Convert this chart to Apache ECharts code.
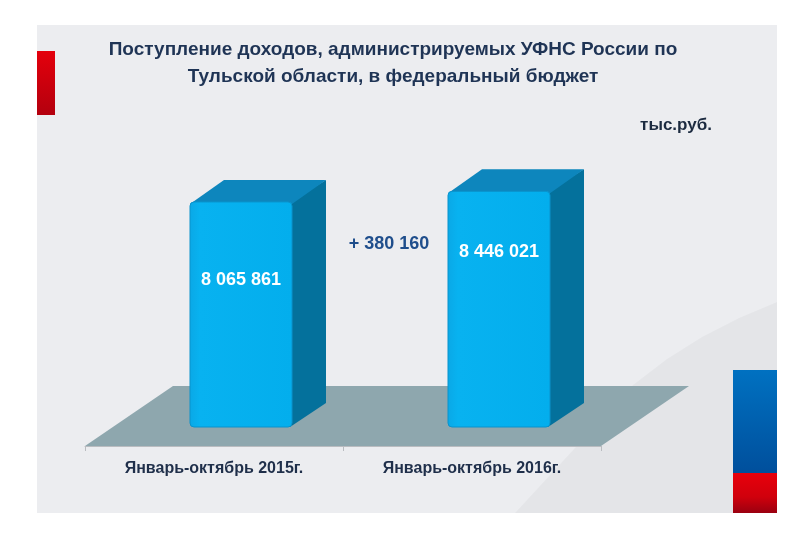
<!DOCTYPE html>
<html>
<head>
<meta charset="utf-8">
<script src="https://cdn.jsdelivr.net/npm/echarts@6/dist/echarts.min.js"></script>
<style>
html, body { margin: 0; padding: 0; background: #fff; }
#chart { width: 800px; height: 533px; }
</style>
</head>
<body>
<div id="chart"></div>
<script>
// данные
var categories = ['Январь-октябрь 2015г.', 'Январь-октябрь 2016г.'];
var values = [8065861, 8446021];
var titleLines = ['Поступление доходов, администрируемых УФНС России по', 'Тульской области, в федеральный бюджет'];
var unitText = 'тыс.руб.';

var sans = '"Liberation Sans", Arial, sans-serif';

function fmt(n) {
	var s = String(Math.abs(n));
	var out = '';
	while (s.length > 3) {
		out = ' ' + s.slice(-3) + out;
		s = s.slice(0, -3);
	}
	return s + out;
}

var diff = values[1] - values[0];

var myChart = echarts.init(document.getElementById('chart'));

function renderBar(params, api) {
	var i = params.dataIndex;
	var base = api.coord([api.value(0), 0]);
	var top = api.coord([api.value(0), api.value(1)]);
	var w = 102, dx = 34, dy = 22;
	var x0 = base[0] + 27 - w / 2, x1 = x0 + w;
	var y0 = top[1], y1 = base[1];
	var labelY = i == 0 ? y0 + 78 : y0 + 61; //подписи внутри столбцов
	return {
		type: 'group',
		children: [{
			type: 'polygon',
			shape: { points: [[x1 - 2, y0], [x1 + dx, y0 - dy], [x1 + dx, y1 - dy - 2], [x1 - 2, y1]] },
			style: { fill: '#04719c' }
		}, {
			type: 'polygon',
			shape: { points: [[x0, y0 + 2], [x0 + dx, y0 - dy], [x1 + dx, y0 - dy], [x1, y0 + 2]] },
			style: { fill: '#0d86bd' }
		}, {
			type: 'rect',
			shape: { x: x0, y: y0, width: w, height: y1 - y0, r: 4 },
			style: {
				fill: new echarts.graphic.LinearGradient(0, 0, 1, 0, [
					{ offset: 0, color: '#0aa8e6' },
					{ offset: 0.1, color: '#08b2f0' },
					{ offset: 1, color: '#03aeed' }
				]),
				stroke: '#0a93cc', lineWidth: 1
			}
		}, {
			type: 'text',
			style: {
				text: fmt(api.value(1)),
				x: x0 + w / 2, y: labelY,
				align: 'center', verticalAlign: 'middle',
				fill: '#ffffff',
				font: 'bold 18px ' + sans
			}
		}]
	};
}

var option = {
	backgroundColor: '#ffffff',
	animation: false,
	grid: {
		left: 85,
		right: 199,
		top: 148,
		bottom: 106
	},
	xAxis: {
		type: 'category',
		data: categories,
		offset: 19,
		axisLine: { onZero: false, lineStyle: { color: '#b9bcc0', width: 1 } },
		axisTick: { show: true, length: 5, lineStyle: { color: '#b9bcc0' } },
		axisLabel: {
			margin: 15,
			color: '#1f2f4a',
			fontWeight: 'bold',
			fontSize: 16,
			fontFamily: sans
		}
	},
	yAxis: {
		type: 'value',
		min: 0,
		max: 10000000,
		show: false,
		splitLine: { show: false }
	},
	graphic: [{
		type: 'rect', z: -10,
		shape: { x: 37, y: 25, width: 740, height: 488 },
		style: { fill: '#ecedf0' }
	}, {
		// затемнённый сектор фона справа внизу
		type: 'polygon', z: -9,
		shape: { points: [[515, 513], [633, 385], [667, 359], [702, 337], [739, 318], [777, 302], [777, 513]] },
		style: { fill: 'rgba(0,0,0,0.03)' }
	}, {
		type: 'rect', z: -8,
		shape: { x: 37, y: 51, width: 18, height: 64 },
		style: {
			fill: new echarts.graphic.LinearGradient(0, 0, 0, 1, [
				{ offset: 0, color: '#e4000c' },
				{ offset: 1, color: '#b3000e' }
			])
		}
	}, {
		type: 'rect', z: -8,
		shape: { x: 733, y: 370, width: 44, height: 103 },
		style: {
			fill: new echarts.graphic.LinearGradient(0, 0, 0, 1, [
				{ offset: 0, color: '#0071c1' },
				{ offset: 1, color: '#004f9c' }
			])
		}
	}, {
		type: 'rect', z: -8,
		shape: { x: 733, y: 473, width: 44, height: 40 },
		style: {
			fill: new echarts.graphic.LinearGradient(0, 0, 0, 1, [
				{ offset: 0, color: '#e8000c' },
				{ offset: 0.6, color: '#d0000c' },
				{ offset: 1, color: '#9a0010' }
			])
		}
	}, {
		// пол диаграммы
		type: 'polygon', z: -5,
		shape: { points: [[85, 446], [601, 446], [689, 386], [173, 386]] },
		style: { fill: '#8ea7ae' }
	}, {
		type: 'text', z: 10,
		style: {
			text: titleLines.join('\n'),
			x: 393, y: 36,
			align: 'center',
			lineHeight: 27,
			fill: '#1f3455',
			font: 'bold 19px ' + sans
		}
	}, {
		type: 'text', z: 10,
		style: {
			text: unitText,
			x: 676, y: 125,
			align: 'center', verticalAlign: 'middle',
			fill: '#1c2b40',
			font: 'bold 17px ' + sans
		}
	}, {
		type: 'text', z: 10,
		style: {
			text: '+ ' + fmt(diff),
			x: 389, y: 244,
			align: 'center', verticalAlign: 'middle',
			fill: '#1f4e8c',
			font: 'bold 18px ' + sans
		}
	}],
	series: [{
		type: 'custom',
		renderItem: renderBar,
		data: values.map(function(v, i) { return [i, v]; }),
		z: 5
	}]
};
myChart.setOption(option);
</script>
</body>
</html>
